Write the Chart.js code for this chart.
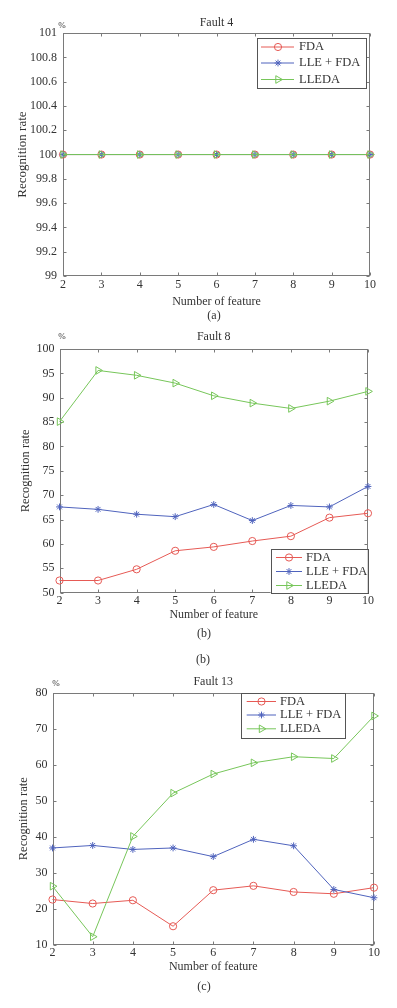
<!DOCTYPE html>
<html>
<head>
<meta charset="utf-8">
<script src="https://cdn.jsdelivr.net/npm/chart.js@4.4.1/dist/chart.umd.min.js"></script>
<style>
  html, body { margin: 0; padding: 0; background: #fff; }
  body { width: 397px; height: 1008px; position: relative; overflow: hidden;
         font-family: "Liberation Serif", "Times New Roman", serif; color: #333; }
  .panel { position: absolute; left: 0; }
  .txt { position: absolute; white-space: nowrap; text-align: center; }
</style>
</head>
<body>
<div class="panel" style="top:0px"><canvas id="ca" width="397" height="320"></canvas></div>
<div class="panel" style="top:325px"><canvas id="cb" width="397" height="320"></canvas></div>
<div class="panel" style="top:660px"><canvas id="cc" width="397" height="348"></canvas></div>

<div class="txt" style="left:56px;top:20px;font-size:9px;line-height:10px;width:12px;">%</div>
<div class="txt" style="left:164px;top:308px;font-size:12px;line-height:14px;width:100px;">(a)</div>

<div class="txt" style="left:56px;top:331px;font-size:9px;line-height:10px;width:12px;">%</div>
<div class="txt" style="left:154px;top:626px;font-size:12px;line-height:14px;width:100px;">(b)</div>
<div class="txt" style="left:153px;top:652px;font-size:12px;line-height:14px;width:100px;">(b)</div>

<div class="txt" style="left:50px;top:678px;font-size:9px;line-height:10px;width:12px;">%</div>
<div class="txt" style="left:154px;top:979px;font-size:12px;line-height:14px;width:100px;">(c)</div>

<script>
// ---------------- data ----------------
const features = ['2', '3', '4', '5', '6', '7', '8', '9', '10'];
const seriesNames = ['FDA', 'LLE + FDA', 'LLEDA'];

const fault4FDA    = [100, 100, 100, 100, 100, 100, 100, 100, 100];
const fault4LLEFDA = [100, 100, 100, 100, 100, 100, 100, 100, 100];
const fault4LLEDA  = [100, 100, 100, 100, 100, 100, 100, 100, 100];
const fault4YTicks = [99, 99.2, 99.4, 99.6, 99.8, 100, 100.2, 100.4, 100.6, 100.8, 101];

const fault8FDA    = [52.5, 52.5, 54.8, 58.6, 59.4, 60.6, 61.6, 65.4, 66.3];
const fault8LLEFDA = [67.6, 67.1, 66.1, 65.6, 68.1, 64.8, 67.9, 67.6, 71.8];
const fault8LLEDA  = [85.1, 95.6, 94.6, 93.0, 90.4, 88.9, 87.8, 89.3, 91.3];
const fault8YTicks = [50, 55, 60, 65, 70, 75, 80, 85, 90, 95, 100];

const fault13FDA    = [22.6, 21.5, 22.4, 15.2, 25.2, 26.4, 24.7, 24.2, 25.9];
const fault13LLEFDA = [36.9, 37.6, 36.5, 36.9, 34.5, 39.3, 37.5, 25.4, 23.1];
const fault13LLEDA  = [26.3, 12.3, 40.1, 52.1, 57.4, 60.5, 62.2, 61.7, 73.5];
const fault13YTicks = [10, 20, 30, 40, 50, 60, 70, 80];

// ---------------- styling ----------------
const FONT = '"Liberation Serif", "Times New Roman", serif';
const TEXT = '#333';
const AXIS = '#7a7a7a';
const COLORS = ['#e65a55', '#4f63bd', '#77c65a'];
const STYLES = [
  { pointStyle: 'circle', pointRadius: 3.6, pointRotation: 0 },
  { pointStyle: 'star', pointRadius: 3.4, pointRotation: 0 },
  { pointStyle: 'triangle', pointRadius: 4.4, pointRotation: 90 }
];

Chart.defaults.font.family = FONT;
Chart.defaults.color = TEXT;

function drawMarker(ctx, style, radius, rotation, x, y) {
  if (Chart.helpers && Chart.helpers.drawPoint) {
    Chart.helpers.drawPoint(ctx, { pointStyle: style, radius: radius, rotation: rotation, borderWidth: 1 }, x, y);
  }
}

const matlabBox = {
  id: 'matlabBox',
  beforeDatasetsDraw(chart, args, o) {
    const { ctx, chartArea: a } = chart;
    const xs = chart.scales.x, ys = chart.scales.y;
    ctx.save();
    ctx.strokeStyle = AXIS;
    ctx.lineWidth = 1;
    const l = Math.round(a.left) + 0.5, r = Math.round(a.right) - 0.5;
    const t = Math.round(a.top) + 0.5, b = Math.round(a.bottom) - 0.5;
    ctx.strokeRect(l, t, r - l, b - t);
    const len = 3;
    ctx.beginPath();
    xs.ticks.forEach((tk, i) => {
      const px = Math.round(xs.getPixelForTick(i)) + 0.5;
      ctx.moveTo(px, b); ctx.lineTo(px, b - len);
      ctx.moveTo(px, t); ctx.lineTo(px, t + len);
    });
    ys.ticks.forEach((tk, i) => {
      const py = Math.round(ys.getPixelForTick(i)) + 0.5;
      ctx.moveTo(l, py); ctx.lineTo(l + len, py);
      ctx.moveTo(r, py); ctx.lineTo(r - len, py);
    });
    ctx.stroke();
    ctx.restore();
  }
};

const insideLegend = {
  id: 'insideLegend',
  afterDatasetsDraw(chart, args, o) {
    const ctx = chart.ctx;
    ctx.save();
    ctx.fillStyle = '#fff';
    ctx.fillRect(o.x, o.y, o.w, o.h);
    ctx.strokeStyle = '#555';
    ctx.lineWidth = 1;
    ctx.strokeRect(Math.round(o.x) + 0.5, Math.round(o.y) + 0.5, Math.round(o.w), Math.round(o.h));
    chart.data.datasets.forEach((ds, i) => {
      const y = o.rows[i];
      ctx.strokeStyle = ds.borderColor;
      ctx.lineWidth = 1;
      ctx.beginPath();
      ctx.moveTo(o.lineX0, y); ctx.lineTo(o.lineX1, y);
      ctx.stroke();
      ctx.fillStyle = 'rgba(0,0,0,0)';
      ctx.strokeStyle = ds.borderColor;
      drawMarker(ctx, ds.pointStyle, ds.pointRadius, ds.pointRotation || 0, o.markX, y);
      ctx.fillStyle = TEXT;
      ctx.font = o.fontSize + 'px ' + FONT;
      ctx.textBaseline = 'middle';
      ctx.textAlign = 'left';
      ctx.fillText(ds.label, o.textX, y);
    });
    ctx.restore();
  }
};

function makeChart(id, cfg) {
  const datasets = cfg.series.map((vals, i) => ({
    label: seriesNames[i],
    data: vals,
    order: cfg.series.length - i,
    borderColor: COLORS[i],
    backgroundColor: 'rgba(0,0,0,0)',
    pointBackgroundColor: 'rgba(0,0,0,0)',
    pointBorderColor: COLORS[i],
    borderWidth: 1,
    pointBorderWidth: 1,
    pointStyle: STYLES[i].pointStyle,
    pointRadius: STYLES[i].pointRadius,
    pointRotation: STYLES[i].pointRotation,
    tension: 0,
    clip: false
  }));
  return new Chart(document.getElementById(id), {
    type: 'line',
    data: { labels: features, datasets: datasets },
    options: {
      responsive: false,
      animation: false,
      events: [],
      layout: { padding: { left: 0, top: 0, right: 397 - cfg.R, bottom: cfg.padBottom } },
      plugins: {
        legend: { display: false },
        tooltip: { enabled: false },
        title: {
          display: true, text: cfg.title, fullSize: false,
          font: { size: 12, weight: 'normal', family: FONT }, color: TEXT,
          padding: { top: cfg.titleTop, bottom: cfg.titleBottom }
        },
        matlabBox: {},
        insideLegend: cfg.legend
      },
      scales: {
        x: {
          type: 'category',
          offset: false,
          grid: { display: false, drawTicks: false },
          border: { display: false },
          ticks: { font: { size: 12 }, color: TEXT, padding: cfg.xTickPad, maxRotation: 0, autoSkip: false },
          title: { display: true, text: 'Number of feature', font: { size: 12 }, color: TEXT, padding: { top: 0, bottom: 0 } },
          afterFit: s => { s.height = cfg.xHeight; }
        },
        y: {
          type: 'linear',
          min: cfg.yTicks[0],
          max: cfg.yTicks[cfg.yTicks.length - 1],
          grid: { display: false, drawTicks: false },
          border: { display: false },
          afterBuildTicks: s => { s.ticks = cfg.yTicks.map(v => ({ value: v })); },
          ticks: { font: { size: 12 }, color: TEXT, padding: cfg.yTickPad, callback: v => String(v) },
          title: { display: true, text: 'Recognition rate', font: { size: cfg.yTitleSize }, color: TEXT, padding: { top: cfg.yTitlePad, bottom: 0 } },
          afterFit: s => { s.width = cfg.L; }
        }
      }
    },
    plugins: [matlabBox, insideLegend]
  });
}

makeChart('ca', {
  series: [fault4FDA, fault4LLEFDA, fault4LLEDA], yTicks: fault4YTicks, title: 'Fault 4',
  L: 63, R: 370, titleTop: 16.1, titleBottom: 2.6, padBottom: 10.8, xHeight: 33.2,
  xTickPad: 2, yTickPad: 6, yTitleSize: 13, yTitlePad: 14.5,
  legend: { x: 257, y: 38, w: 109, h: 50, rows: [47, 63, 79.5], lineX0: 261, lineX1: 294, markX: 278, textX: 299, fontSize: 12.5 }
});

makeChart('cb', {
  series: [fault8FDA, fault8LLEFDA, fault8LLEDA], yTicks: fault8YTicks, title: 'Fault 8',
  L: 59.5, R: 368, titleTop: 4.8, titleBottom: 4.8, padBottom: 22.8, xHeight: 29.5,
  xTickPad: 1, yTickPad: 5, yTitleSize: 12.5, yTitlePad: 18.3,
  legend: { x: 270.7, y: 224, w: 97, h: 44, rows: [232.5, 246.5, 260.5], lineX0: 276, lineX1: 302, markX: 289, textX: 306, fontSize: 12.5 }
});

makeChart('cc', {
  series: [fault13FDA, fault13LLEFDA, fault13LLEDA], yTicks: fault13YTicks, title: 'Fault 13',
  L: 52.5, R: 374, titleTop: 14.5, titleBottom: 3.6, padBottom: 34.1, xHeight: 28.9,
  xTickPad: 1, yTickPad: 5, yTitleSize: 12.5, yTitlePad: 16.5,
  legend: { x: 241.3, y: 32.5, w: 104, h: 45, rows: [41.5, 55, 68.8], lineX0: 246.7, lineX1: 276, markX: 261.5, textX: 280, fontSize: 12.5 }
});
</script>
</body>
</html>
